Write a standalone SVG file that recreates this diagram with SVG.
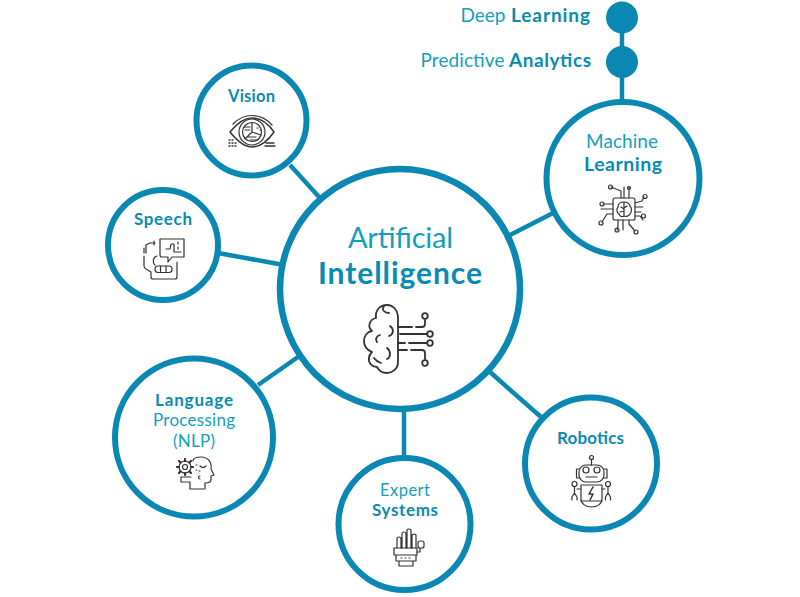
<svg xmlns="http://www.w3.org/2000/svg" width="800" height="597" viewBox="0 0 800 597">
<style>
.ring{fill:#fff;stroke:#0a87b3;stroke-width:6}
.big{fill:#fff;stroke:#0a87b3;stroke-width:6.500}
.dot{fill:#0a87b3}
.link{stroke:#0a87b3;stroke-width:4.500;fill:none}
.ic{fill:none;stroke:#333;stroke-width:1.200;stroke-linecap:round;stroke-linejoin:round}
.icb{fill:none;stroke:#333;stroke-width:1.800;stroke-linecap:round;stroke-linejoin:round}
text{font-family:"Lato","Open Sans","Liberation Sans",sans-serif;text-anchor:middle}
.l{fill:#14a0bc;font-weight:400}
.b{fill:#0a8bb0;font-weight:700}
.s{text-anchor:start}
</style>
<rect width="800" height="597" fill="#fff"/>
<g id="connectors">
<line class="link" x1="622" y1="17" x2="622" y2="105"/>
<line class="link" x1="290" y1="165" x2="320" y2="198"/>
<line class="link" x1="218" y1="253" x2="284" y2="265"/>
<line class="link" x1="510" y1="235" x2="555" y2="212"/>
<line class="link" x1="258" y1="385" x2="298" y2="357"/>
<line class="link" x1="404" y1="410" x2="404" y2="458"/>
<line class="link" x1="490" y1="372" x2="541" y2="417"/>
</g>
<g id="deep-learning">
<circle class="dot" cx="622" cy="17.500" r="16"/>
<text class="l s" x="460.500" y="22" font-size="19" textLength="45">Deep</text>
<text class="b s" x="511" y="22" font-size="19" textLength="79">Learning</text>
</g>
<g id="predictive-analytics">
<circle class="dot" cx="622" cy="62" r="16"/>
<text class="l s" x="420.500" y="66.500" font-size="19" textLength="84">Predictive</text>
<text class="b s" x="509" y="66.500" font-size="19" textLength="82">Analytics</text>
</g>
<g id="artificial-intelligence">
<circle class="big" cx="400" cy="289" r="120"/>
<text class="l" x="400.500" y="248" font-size="29" textLength="105">Artificial</text>
<text class="b" x="400" y="284" font-size="30" textLength="164">Intelligence</text>
<g class="icb">
<path d="M398 318V362C398 369 392 373 387 373C382 373 379 371 377 367C372 367 368 363 369 358C369 355 371 353 372 352C367 350 364 346 364 341C364 336 367 332 372 331C368 328 368 320 376 318C375 310 380 305 387 305C393 305 398 310 398 318Z"/>
<path d="M384 306C381 310 385 313 389 313"/>
<path d="M390 326C394 329 394 334 389 336"/>
<path d="M380 335C376 336 375 340 377 342"/>
<path d="M387 348C391 351 391 357 387 359"/>
<path d="M374 358C376 361 378 362 381 363"/>
<path d="M398 327H412M416 327H422Q425 327 425 324V320"/>
<path d="M400 334H427M398 343H405M409 343H427"/>
<path d="M398 350H407M411 350H422Q425 350 425 353V359"/>
<circle cx="425" cy="316" r="2.800"/><circle cx="430" cy="334" r="2.800"/><circle cx="430" cy="343" r="2.800"/><circle cx="425" cy="363" r="2.800"/>
</g>
</g>
<g id="vision">
<circle class="ring" cx="251.500" cy="120.500" r="55"/>
<text class="b" x="251.500" y="102" font-size="16.500" textLength="47">Vision</text>
<g class="ic">
<path d="M230 132C238 122 245 118 252 118C260 118 267 122 274 132C267 142 260 147 252 147C245 147 238 142 230 132Z" stroke-width="1.500"/>
<path d="M233 124C240 117 246 115.500 252 115.500C259 115.500 266 118 272 125"/>
<circle cx="252" cy="132" r="13"/><circle cx="252" cy="132" r="9.500"/>
<path d="M252 122.500V132L261 135M252 132L245 139M244 127H250M245 130H250M247 137H256M250 140H258M257 128H258M260 130H261"/>
<path d="M229 140h1M232 140h1M229 143h1M232 143h1M235 143h1M229 146h1M232 146h1M235 146h1M266 143h8M265 146h10" stroke-width="1.400"/>
</g>
</g>
<g id="speech">
<circle class="ring" cx="163" cy="245" r="55"/>
<text class="b" x="163" y="225" font-size="17" textLength="58">Speech</text>
<g class="ic" stroke-width="1.300">
<path d="M160 239H184V257H172L168 262V257H162Q160 257 160 255Z"/>
<path d="M166 249H170L171 244H174V252H176M178 242V244M178 247V249M181 252H176"/>
<path d="M155 243H150L146 245V253M144 256V266Q144 268 146 269L151 272V277Q151 279 153 279H175Q177 279 177 277V262"/>
<path d="M157 256C153 257 152 262 155 265"/>
<rect x="155" y="266" width="17" height="6.500" rx="3"/>
<path d="M160.500 266V272.500M166 266V272.500"/>
<path d="M154 241V245M144 248V253"/>
</g>
</g>
<g id="machine-learning">
<circle class="ring" cx="623" cy="178.500" r="76.500"/>
<text class="l" x="622" y="148" font-size="19" textLength="72">Machine</text>
<text class="b" x="623" y="171" font-size="19.500" textLength="78">Learning</text>
<g class="ic">
<rect x="613" y="198" width="22" height="22" rx="2"/>
<path d="M624 202C620 202 618 204 618 207C616 209 617 213 619 214C620 217 623 217 624 216C626 217 629 216 630 214C632 212 632 208 630 206C629 203 627 202 624 202ZM624 202V216M621 207L624 209M627 206L624 208M620 212L624 211"/>
<path d="M621 198V191L611 187M624 198V187M629 198V187M635 203L642 201L644 197M635 207H643M635 212H641M635 216H640L643 220M613 204H603M613 209H601M613 214H607L602 222M618 220V226L617 230M623 220V230M629 220V224L635 231"/>
<circle cx="610.500" cy="187" r="2"/><circle cx="629" cy="188" r="1.500"/><circle cx="645" cy="196.500" r="2"/><circle cx="643.500" cy="216" r="2"/><circle cx="602" cy="204" r="2"/><circle cx="601" cy="223" r="2"/><circle cx="617" cy="230" r="2"/><circle cx="636" cy="232" r="2"/>
</g>
</g>
<g id="language-processing">
<circle class="ring" cx="194" cy="437.500" r="79"/>
<text class="b" x="194" y="406" font-size="17" textLength="78">Language</text>
<text class="l" x="194" y="426" font-size="17" textLength="82">Processing</text>
<text class="l" x="194" y="447" font-size="17" textLength="42">(NLP)</text>
<g class="ic" stroke-width="1.300">
<circle cx="185" cy="467" r="2.500"/>
<circle cx="185" cy="467" r="6"/>
<path d="M185 459V461M185 473V475M177 467H179M191 467H193M179 461L180.500 462.500M191 461L189.500 462.500M179 473L180.500 471.500M191 473L189.500 471.500" stroke-width="2.200"/>
<path d="M193 461C193 458 197 457 201 457C208 457 212 462 211 469L214 475L211 476V480C211 483 208 483 205 483V489"/>
<path d="M200 466C202 468 204 468 206 466M196 465h1M196 470h1M199 471h1"/>
<path d="M200 476A1.500 1.500 0 1 0 200 479M191 477H181V482H190V489H204"/>
</g>
</g>
<g id="expert-systems">
<circle class="ring" cx="404.500" cy="524" r="66"/>
<text class="l" x="405" y="496" font-size="16.500" textLength="50">Expert</text>
<text class="b" x="405" y="516" font-size="17" textLength="66">Systems</text>
<g class="ic" stroke-width="1.500">
<path d="M397 548V539Q397 537 399 537Q401 537 401 539V548M402 548V534Q402 532 404 532Q406 532 406 534V548M407 548V530Q407 529 409 529Q411 529 411 530V548M412 548V535Q412 534 414 534Q416 534 416 535V548"/>
<path d="M394 548H417V555H394ZM396 555H416V561H396ZM399 561H413V566H399Z"/>
<path d="M417 552H420V548M418 542Q418 541 420 541H422Q424 541 424 543V546Q424 548 422 548H420Q418 548 418 546Z"/>
<path d="M401 558h1M405 558h1M409 558h1"/>
</g>
</g>
<g id="robotics">
<circle class="ring" cx="591" cy="463.500" r="66"/>
<text class="b" x="590.500" y="443.500" font-size="17" textLength="67">Robotics</text>
<g class="ic" stroke-width="1.300">
<circle cx="591.500" cy="457.500" r="2"/>
<path d="M591.500 459.500V465"/>
<rect x="579" y="465" width="25" height="17" rx="7"/>
<path d="M579 469H576.500V478H579M604 469H607V478H604"/>
<circle cx="586" cy="470" r="3"/><circle cx="597" cy="470" r="3"/>
<path d="M586 477H597"/>
<path d="M581 485H602V499C602 504 597 507 592 507C586 507 581 504 581 499Z"/>
<path d="M581 501H602"/>
<path d="M593 487L589 494H593L590 500" stroke-width="1.500"/>
<circle cx="574.500" cy="484" r="2.500"/><circle cx="608" cy="484" r="2.500"/>
<path d="M574.500 486.500V493L572 497V500M574.500 493L577 497V500M577 489H581M608 486.500V493L605.500 497V500M608 493L610.500 497V500M605 489H602"/>
</g>
</g>
</svg>
